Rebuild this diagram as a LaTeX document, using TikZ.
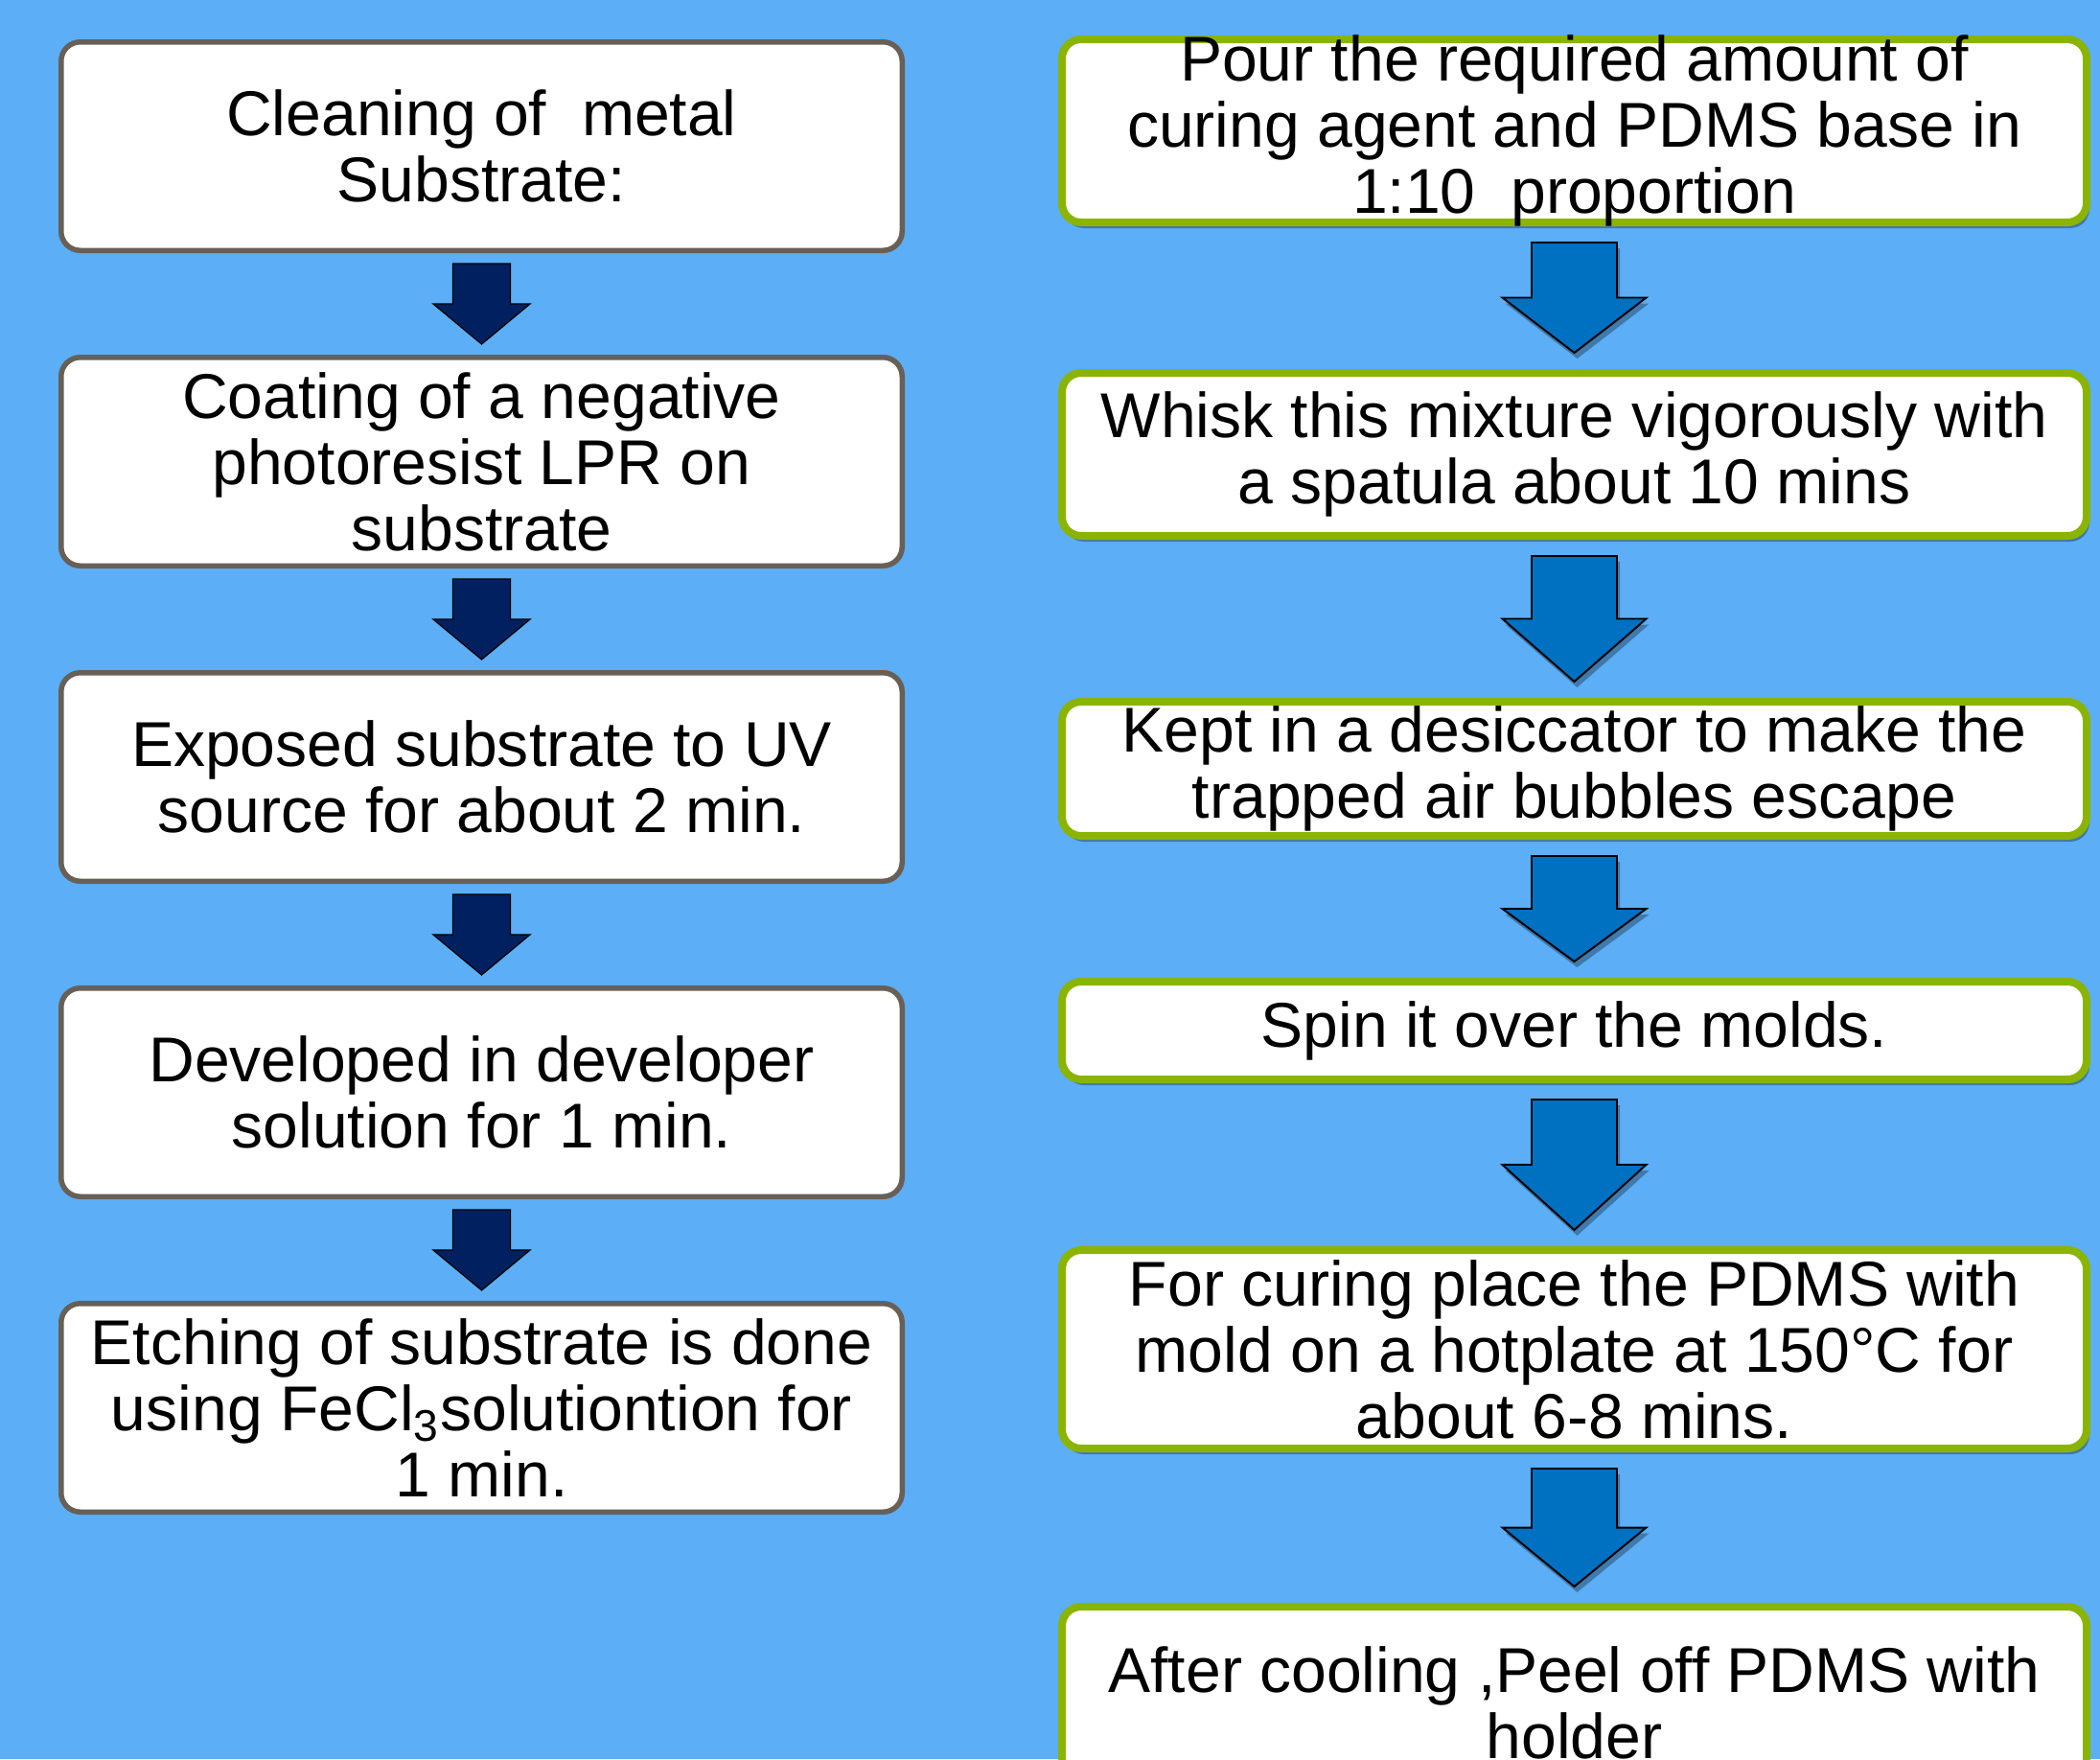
\documentclass[tikz,border=0pt]{standalone}
\usepackage{fontspec}
\setmainfont{Liberation Sans}
\usetikzlibrary{positioning, calc, shadows}
\definecolor{bgblue}{RGB}{92,174,246}
\definecolor{etchline}{RGB}{104,96,86}
\definecolor{moldline}{RGB}{138,180,0}
\definecolor{etcharrow}{RGB}{0,32,96}
\definecolor{moldarrow}{RGB}{0,112,192}
\newcommand{\boxfont}{\fontsize{18.8pt}{19.6pt}\selectfont}
\tikzset{%
  % Specifications for style of nodes:
        base/.style = {rectangle, rounded corners=2mm, fill=white,
                           inner sep=0pt, align=center, font=\boxfont},
        etchstep/.style = {base, draw=etchline, line width=0.55mm,
                           minimum width=8.775cm, minimum height=2.175cm},
        moldstep/.style = {base, draw=moldline, line width=0.8mm,
                           minimum width=10.69cm,
                           drop shadow={shadow xshift=0.3mm, shadow yshift=-0.6mm,
                                        fill=black, opacity=0.3}},
        boxtext/.style = {align=center, font=\boxfont, inner sep=0pt},
        darkarrow/.style = {draw=black, line width=0.35pt, fill=etcharrow},
        bluearrow/.style = {draw=black, line width=0.55pt, fill=moldarrow,
                           drop shadow={shadow xshift=0.3mm, shadow yshift=-0.6mm,
                                        fill=black, opacity=0.3}}
}
% block arrow: style, from, to, gap, half shaft, half head
\newcommand{\flowarrow}[6]{%
  \path[#1] let \p1 = ($(#2.south)+(0,-#4)$),
                \p2 = ($(#3.north)+(0,#4)$),
                \p3 = ($(\p1)!0.5!(\p2)$) in
    (\x1-#5,\y1) -- (\x1+#5,\y1) -- (\x1+#5,\y3) -- (\x1+#6,\y3)
    -- (\x1,\y2) -- (\x1-#6,\y3) -- (\x1-#5,\y3) -- cycle;
}

\begin{document}
\begin{tikzpicture}
  \useasboundingbox (0,0) rectangle (21.91,-18.35);
  \clip (0,0) rectangle (21.91,-18.35);
  \fill[bgblue] (0,0) rectangle (21.91,-18.35);

  % Specification of nodes (position, etc.)
  % left column
    \node (clean)    [etchstep] at (5.025,-1.525) {Cleaning of~ metal\\Substrate:};
    \node (coat)     [etchstep, below=1.06cm of clean] {Coating of a negative\\photoresist LPR on\\substrate};
    \node (expose)   [etchstep, below=1.06cm of coat] {Exposed substrate to UV\\source for about 2 min.};
    \node (develop)  [etchstep, below=1.06cm of expose] {Developed in developer\\solution for 1 min.};
    \node (etch)     [etchstep, below=1.06cm of develop] {Etching of substrate is done\\using FeCl\textsubscript{3}solutiontion for\\1 min.};

  % right column
    \node (pour)      [moldstep, minimum height=1.91cm] at (16.425,-1.365) {};
    \node (whisk)     [moldstep, minimum height=1.70cm, below=1.49cm of pour] {};
    \node (desiccate) [moldstep, minimum height=1.40cm, below=1.65cm of whisk] {};
    \node (spin)      [moldstep, minimum height=1.02cm, below=1.44cm of desiccate] {};
    \node (cure)      [moldstep, minimum height=2.07cm, below=1.70cm of spin] {};
    \node (peel)      [moldstep, minimum height=2.00cm, below=1.57cm of cure] {};

    \node (pourTxt)      [boxtext] at (pour) {Pour the required amount of\\curing agent and PDMS base in\\1:10~ proportion};
    \node (whiskTxt)     [boxtext] at (whisk) {Whisk this mixture vigorously with\\a spatula about 10 mins};
    \node (desiccateTxt) [boxtext] at (desiccate) {Kept in a desiccator to make the\\trapped air bubbles escape};
    \node (spinTxt)      [boxtext] at (spin) {Spin it over the molds.};
    \node (cureTxt)      [boxtext] at (cure) {For curing place the PDMS with\\mold on a hotplate at 150°C for\\about 6-8 mins.};
    \node (peelTxt)      [boxtext] at (peel) {After cooling ,Peel off PDMS with\\holder};

  % Specification of arrows between nodes specified above
  \flowarrow{darkarrow}{clean}{coat}{0.11cm}{0.30cm}{0.505cm}
  \flowarrow{darkarrow}{coat}{expose}{0.11cm}{0.30cm}{0.505cm}
  \flowarrow{darkarrow}{expose}{develop}{0.11cm}{0.30cm}{0.505cm}
  \flowarrow{darkarrow}{develop}{etch}{0.11cm}{0.30cm}{0.505cm}

  \flowarrow{bluearrow}{pour}{whisk}{0.17cm}{0.445cm}{0.75cm}
  \flowarrow{bluearrow}{whisk}{desiccate}{0.17cm}{0.445cm}{0.75cm}
  \flowarrow{bluearrow}{desiccate}{spin}{0.17cm}{0.445cm}{0.75cm}
  \flowarrow{bluearrow}{spin}{cure}{0.17cm}{0.445cm}{0.75cm}
  \flowarrow{bluearrow}{cure}{peel}{0.17cm}{0.445cm}{0.75cm}
\end{tikzpicture}
\end{document}
